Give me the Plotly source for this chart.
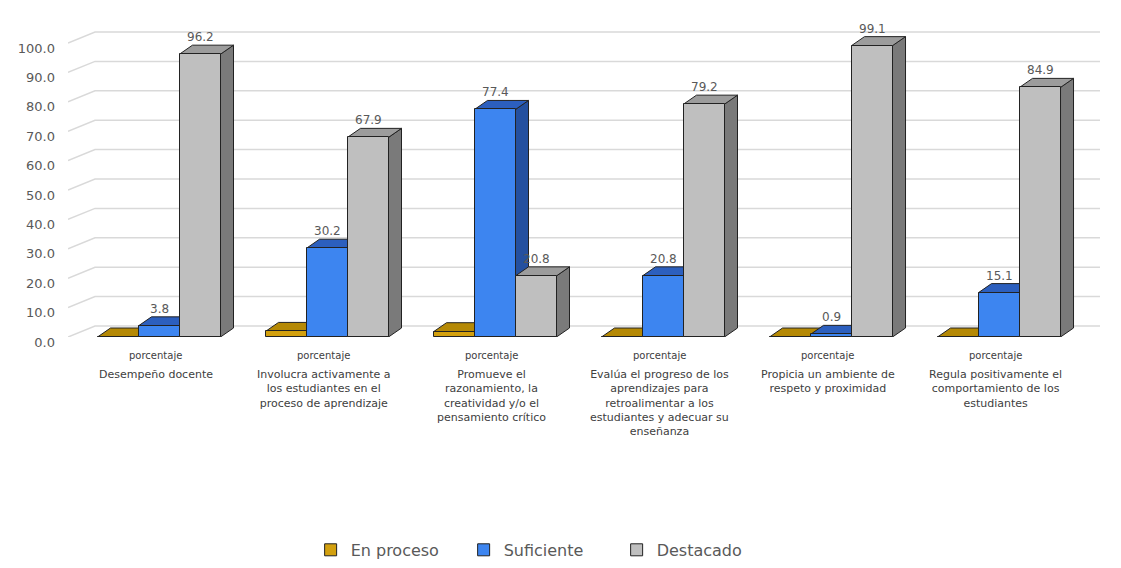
import plotly.graph_objects as go

# ---------------- data ----------------
categories = [
    "Desempeño docente",
    "Involucra activamente a<br>los estudiantes en el<br>proceso de aprendizaje",
    "Promueve el<br>razonamiento, la<br>creatividad y/o el<br>pensamiento crítico",
    "Evalúa el progreso de los<br>aprendizajes para<br>retroalimentar a los<br>estudiantes y adecuar su<br>enseñanza",
    "Propicia un ambiente de<br>respeto y proximidad",
    "Regula positivamente el<br>comportamiento de los<br>estudiantes",
]
sub_label = "porcentaje"
series_names = ["En proceso", "Suficiente", "Destacado"]
en_proceso = [0.0, 1.9, 1.8, 0.0, 0.0, 0.0]
suficiente = [3.8, 30.2, 77.4, 20.8, 0.9, 15.1]
destacado = [96.2, 67.9, 20.8, 79.2, 99.1, 84.9]
y_ticks = [0, 10, 20, 30, 40, 50, 60, 70, 80, 90, 100]
show_labels = [False, True, True]

# ---------------- style ----------------
FONT = "DejaVu Sans, Verdana, sans-serif"
front_col = ["#D3A00E", "#3D85F0", "#BFBFBF"]
top_col = ["#B58905", "#2C5FBE", "#9C9C9C"]
side_col = ["#8E6C05", "#24509F", "#7A7A7A"]
edge = "#222222"

W = 0.244          # bar width (data units)
DX = 13 / 168      # depth offset x
DY = 9 / 2.94      # depth offset y
GX0 = -0.5417      # front-left of grid diagonals
GX1 = GX0 + 27 / 168
GDY = 11 / 2.94
X_MIN, X_MAX = -0.5417, 5.601
Y_MAX = 105.1

series_vals = [en_proceso, suficiente, destacado]
n = len(categories)

fig = go.Figure()
shapes = []
annotations = []

# gridlines (3D back wall)
for v in y_ticks:
    shapes.append(dict(type="path", xref="x", yref="y", layer="below",
                       path=f"M {GX0},{v} L {GX1},{v+GDY} L {X_MAX},{v+GDY}",
                       line=dict(color="#D9D9D9", width=1.5)))

for s, vals in enumerate(series_vals):
    xs = [k + (s - 1) * W for k in range(n)]
    fig.add_trace(go.Bar(
        x=xs, y=vals, width=W, name=series_names[s],
        marker=dict(color=front_col[s], line=dict(color=edge, width=1)),
        hoverinfo="skip",
    ))

# 3D tops and sides, group by group, left to right
for k in range(n):
    for s, vals in enumerate(series_vals):
        v = vals[k]
        xc = k + (s - 1) * W
        xl, xr = xc - W / 2, xc + W / 2
        shapes.append(dict(type="path", xref="x", yref="y", layer="below",
                           path=f"M {xr},0 L {xr+DX},{DY} L {xr+DX},{v+DY} L {xr},{v} Z",
                           fillcolor=side_col[s], line=dict(color=edge, width=1)))
        shapes.append(dict(type="path", xref="x", yref="y", layer="below",
                           path=f"M {xl},{v} L {xr},{v} L {xr+DX},{v+DY} L {xl+DX},{v+DY} Z",
                           fillcolor=top_col[s], line=dict(color=edge, width=1)))
        if show_labels[s]:
            annotations.append(dict(x=xc, y=v + DY, xref="x", yref="y",
                                    text=f"{v:.1f}", showarrow=False,
                                    yanchor="middle", yshift=8,
                                    font=dict(family=FONT, size=12, color="#595959")))

# category labels
for k, cat in enumerate(categories):
    annotations.append(dict(x=k - 0.02, y=-0.035, xref="x", yref="paper",
                            text=sub_label, showarrow=False, yanchor="top",
                            font=dict(family=FONT, size=10, color="#404040")))
    annotations.append(dict(x=k - 0.02, y=-0.095, xref="x", yref="paper",
                            text=cat, showarrow=False, yanchor="top", align="center",
                            font=dict(family=FONT, size=11, color="#404040")))

fig.update_layout(
    width=1121, height=568,
    margin=dict(l=68, r=21, t=28, b=231, autoexpand=False),
    paper_bgcolor="white", plot_bgcolor="white",
    barmode="overlay", bargap=0,
    showlegend=True,
    legend=dict(orientation="h", x=0.4575, xanchor="center", y=-0.689, yanchor="middle",
                font=dict(family=FONT, size=16, color="#595959"),
                itemwidth=30, entrywidth=108, traceorder="normal"),
    xaxis=dict(range=[X_MIN, X_MAX], showgrid=False, zeroline=False,
               showticklabels=False, showline=False, fixedrange=True),
    yaxis=dict(range=[0, Y_MAX], showgrid=False, zeroline=False, showline=False,
               tickvals=y_ticks, tickformat=".1f", ticklabelstandoff=12,
               ticklabelshift=5,
               tickfont=dict(family=FONT, size=13, color="#595959")),
    shapes=shapes,
    annotations=annotations,
)

fig.write_html("out.html")
